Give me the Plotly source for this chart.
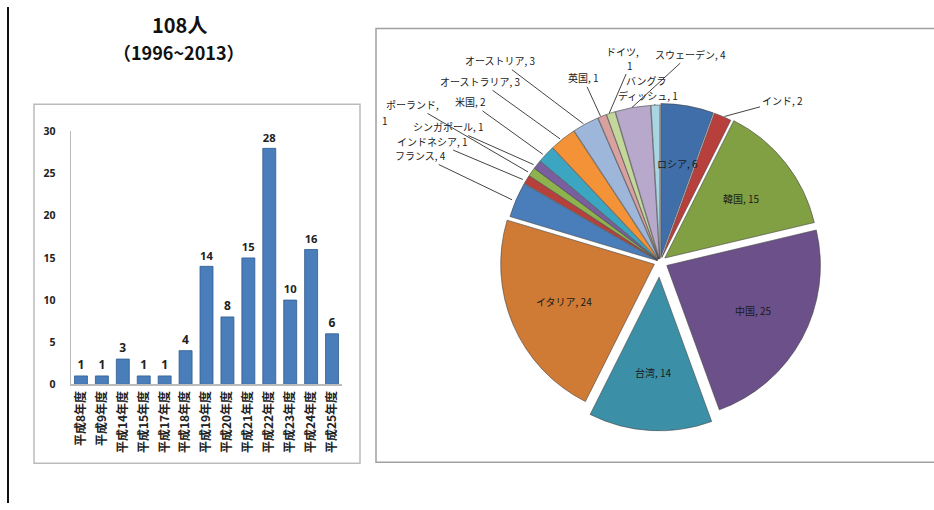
import math
import plotly.graph_objects as go

# ---------------- data ----------------
years = ["平成8年度", "平成9年度", "平成14年度", "平成15年度", "平成17年度", "平成18年度",
         "平成19年度", "平成20年度", "平成21年度", "平成22年度", "平成23年度", "平成24年度", "平成25年度"]
counts = [1, 1, 3, 1, 1, 4, 14, 8, 15, 28, 10, 16, 6]

countries = ["ロシア", "インド", "韓国", "中国", "台湾", "イタリア", "フランス", "インドネシア",
             "ポーランド", "シンガポール", "米国", "オーストラリア", "オーストリア", "英国",
             "ドイツ", "スウェーデン", "バングラディッシュ"]
students = [6, 2, 15, 25, 14, 24, 4, 1, 1, 1, 2, 3, 3, 1, 1, 4, 1]

# ---------------- styles ----------------
W, H = 934, 510
slice_colors = ["#3F6EA9", "#B8403C", "#819F43", "#6B5089", "#3B8FA6", "#CF7B35",
                "#4A7EBB", "#B8403C", "#8DB24E", "#7A5FA0", "#3CA5C2", "#F39237",
                "#9DB6DA", "#D9A0A0", "#C3D69B", "#B8A9CC", "#A9D4E2"]
pulls = [0.03, 0.03, 0.04, 0.05, 0.1, 0.04, 0.02, 0.02, 0.02, 0.02, 0.02, 0.02,
         0.02, 0.02, 0.02, 0.02, 0.02]
inside = {"ロシア", "韓国", "中国", "台湾", "イタリア"}
# outside label placement (px): (x, y, text with leader line, [extra plain text lines])
label_pos = {
    "インド": (782, 97, "インド, 2", []),
    "フランス": (420, 154, "フランス, 4", []),
    "インドネシア": (432, 139, "インドネシア, 1", []),
    "ポーランド": (412, 102, "ポーランド,", [(385, 117, "1")]),
    "シンガポール": (448, 124, "シンガポール, 1", []),
    "米国": (470, 99, "米国, 2", []),
    "オーストラリア": (480, 78, "オーストラリア, 3", []),
    "オーストリア": (500, 57, "オーストリア, 3", []),
    "英国": (583, 74, "英国, 1", []),
    "ドイツ": (630, 61, "1", [(622, 46, "ドイツ,")]),
    "スウェーデン": (690, 50, "スウェーデン, 4", []),
    "バングラディッシュ": (648, 91, "ディッシュ, 1", [(646, 76, "バングラ")]),
}

# pie geometry
cx, cy, r = 660, 262, 158
maxpull = max(pulls)
half = r * (1 + maxpull)
pie_dom_x = [(cx - half) / W, (cx + half) / W]
pie_dom_y = [1 - (cy + half) / H, 1 - (cy - half) / H]

fig = go.Figure()

fig.add_trace(go.Bar(
    x=years, y=counts, text=counts, textposition="outside", cliponaxis=False,
    textfont=dict(family="Noto Sans", size=12, color="#222222", weight="bold"),
    marker=dict(color="#4A7EBB", line=dict(color="#2E5C91", width=0.8)),
    width=0.62, showlegend=False, hoverinfo="x+y",
))

fig.add_trace(go.Pie(
    labels=countries, values=students, sort=False, direction="clockwise", rotation=0,
    textinfo="none", pull=pulls, showlegend=False,
    marker=dict(colors=slice_colors, line=dict(color="#444444", width=0.6)),
    domain=dict(x=pie_dom_x, y=pie_dom_y),
))

label_font = dict(family="Noto Sans CJK JP", size=10, color="#1a1a1a")
annotations = []
total = sum(students)
cum = 0
for name, v, p in zip(countries, students, pulls):
    mid = (cum + v / 2) / total * 2 * math.pi
    cum += v
    s, c = math.sin(mid), math.cos(mid)
    if name in inside:
        rr = r * (0.62 + p)
        px, py = cx + rr * s, cy - rr * c
        annotations.append(dict(
            x=px / W, y=1 - py / H, xref="paper", yref="paper", showarrow=False,
            xanchor="center", yanchor="middle", text=f"{name}, {v}", font=label_font))
    else:
        rr = r * (1 + p)
        tx, ty = cx + rr * s, cy - rr * c
        lx, ly, txt, extras = label_pos[name]
        annotations.append(dict(
            x=tx / W, y=1 - ty / H, xref="paper", yref="paper", showarrow=True,
            ax=lx - tx, ay=ly - ty, axref="pixel", ayref="pixel",
            arrowhead=0, arrowwidth=1, arrowcolor="#444444", standoff=0,
            text=txt, font=label_font))
        for ex, ey, et in extras:
            annotations.append(dict(
                x=ex / W, y=1 - ey / H, xref="paper", yref="paper", showarrow=False,
                xanchor="center", yanchor="middle", text=et, font=label_font))

# titles
annotations.append(dict(x=179 / W, y=1 - 18 / H, xref="paper", yref="paper", showarrow=False,
                        xanchor="center", yanchor="middle",
                        text="108人", font=dict(family="Noto Sans CJK JP", size=20, color="#111111", weight="bold")))
annotations.append(dict(x=179 / W, y=1 - 46 / H, xref="paper", yref="paper", showarrow=False,
                        xanchor="center", yanchor="middle",
                        text="（1996~2013）", font=dict(family="Noto Sans CJK JP", size=18, color="#111111", weight="bold")))

shapes = [
    dict(type="rect", xref="paper", yref="paper", x0=34 / W, x1=360 / W, y0=1 - 469 / H, y1=1 - 100 / H,
         line=dict(color="#BBBBBB", width=1.5), layer="below"),
    dict(type="rect", xref="paper", yref="paper", x0=376 / W, x1=950 / W, y0=1 - 468 / H, y1=1 - 22 / H,
         line=dict(color="#A0A0A0", width=1.5), layer="below"),
    dict(type="line", xref="paper", yref="paper", x0=8 / W, x1=8 / W, y0=0, y1=1,
         line=dict(color="#111111", width=2)),
]

fig.update_layout(
    width=W, height=H, margin=dict(l=0, r=0, t=0, b=0),
    paper_bgcolor="white", plot_bgcolor="white",
    annotations=annotations, shapes=shapes,
    bargap=0.38,
    xaxis=dict(domain=[0.0755, 0.3667], tickangle=-90, showgrid=False, ticks="",
               showline=True, linecolor="#BBBBBB", linewidth=1.5,
               tickfont=dict(family="Noto Sans CJK JP", size=12, color="#222222", weight="bold")),
    yaxis=dict(domain=[1 - 388 / H, 1 - 128 / H], range=[0, 30], dtick=5, showgrid=False,
               zeroline=False, showline=True, linecolor="#BBBBBB", linewidth=1, ticks="",
               ticklabelstandoff=12,
               tickfont=dict(family="Noto Sans", size=10.5, color="#222222", weight="bold")),
)

fig.write_html("out.html")
